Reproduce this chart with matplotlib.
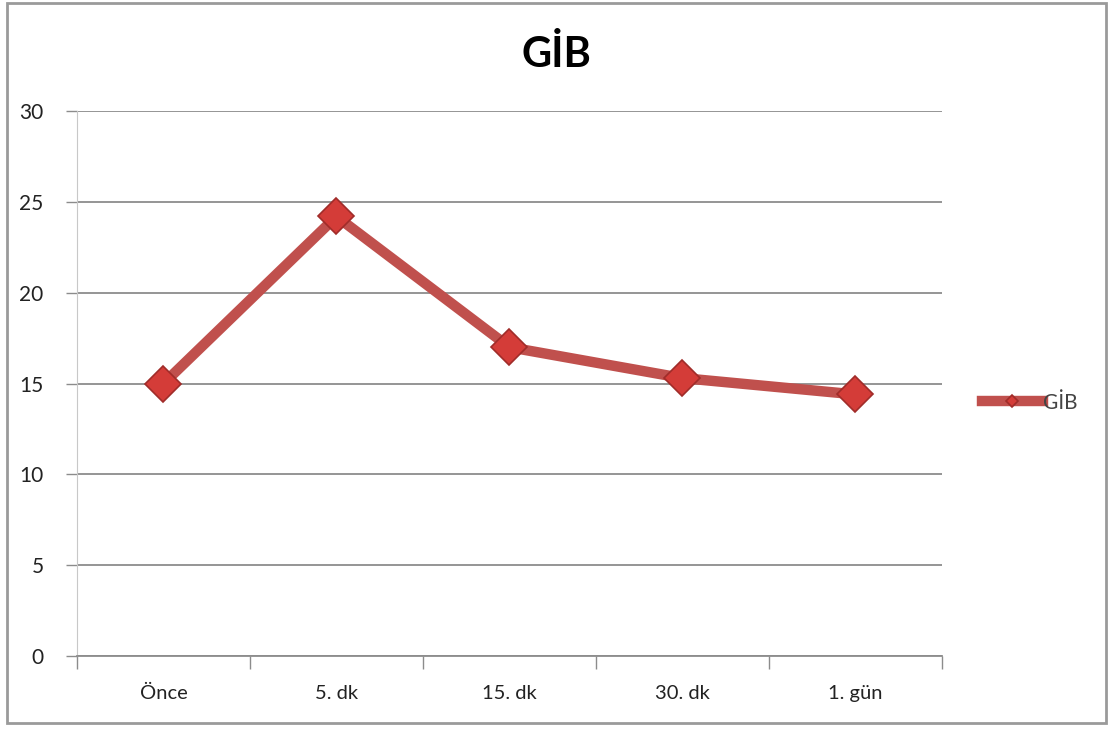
import matplotlib.pyplot as plt
from matplotlib.patches import Rectangle

plt.rcParams['font.family'] = ['Lato', 'DejaVu Sans']

categories = ['Önce', '5. dk', '15. dk', '30. dk', '1. gün']
gib = [15.0, 24.2, 17.0, 15.3, 14.4]
yticks = [0, 5, 10, 15, 20, 25, 30]

line_color = '#c0504d'
grid_color = '#8c8c8c'

fig = plt.figure(figsize=(11.13, 7.29), dpi=100)
ax = fig.add_axes([0.0692, 0.1001, 0.777, 0.7476])

# outer chart frame
fig.patches.append(Rectangle((0.006, 0.008), 0.988, 0.988, transform=fig.transFigure,
                             fill=False, edgecolor='#9a9a9a', linewidth=2.0))

x = list(range(len(categories)))
ax.plot(x, gib, color=line_color, linewidth=7.5, marker='D', markersize=18,
        markerfacecolor='#d43c38', markeredgecolor='#a02c29', markeredgewidth=1.2,
        solid_joinstyle='miter', label='GİB', zorder=3)

ax.set_xlim(-0.5, len(categories) - 0.5)
ax.set_ylim(0, 30)
ax.set_yticks(yticks)
ax.set_yticklabels([str(v) for v in yticks], fontsize=15, color='#222222')
ax.yaxis.grid(True, color=grid_color, linewidth=1.3)
ax.set_axisbelow(True)

# category labels centred, tick marks on the boundaries
ax.set_xticks(x)
ax.set_xticklabels(categories, fontsize=14.5, color='#222222')
ax.tick_params(axis='x', length=0, pad=21)
ax.set_xticks([i - 0.5 for i in range(len(categories) + 1)], minor=True)
ax.tick_params(axis='x', which='minor', length=9, color=grid_color, width=1)
ax.tick_params(axis='y', length=8, color=grid_color, width=1, pad=16)

for side in ['top', 'right']:
    ax.spines[side].set_visible(False)
ax.spines['left'].set_color('#c8c8c8')
ax.spines['bottom'].set_color(grid_color)
ax.spines['bottom'].set_linewidth(1.3)

fig.text(0.5, 0.925, 'GİB', ha='center', va='center', fontsize=30, fontweight='bold')

leg = ax.legend(loc='center left', bbox_to_anchor=(1.025, 0.465), frameon=False,
                fontsize=15, handlelength=2.9, handletextpad=0.0, markerscale=0.35)
for t in leg.get_texts():
    t.set_color('#444444')

fig.savefig('out.png', dpi=100)
